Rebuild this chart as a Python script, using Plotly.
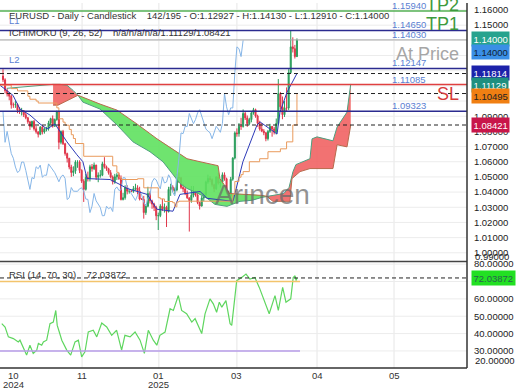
import plotly.graph_objects as go

# ---------------- data ----------------
opens = [1.1165,1.1140,1.1068,1.1047,1.1032,1.0975,1.0975,1.0978,1.0940,1.0935,
         1.0937,1.0910,1.0890,1.0863,1.0833,1.0866,1.0817,1.0797,1.0781,1.0828,
         1.0796,1.0815,1.0817,1.0856,1.0884,1.0834,1.0878,1.0930,1.0728,1.0800,
         1.0719,1.0654,1.0623,1.0565,1.0529,1.0540,1.0598,1.0598,1.0543,1.0472,
         1.0418,1.0496,1.0488,1.0567,1.0554,1.0578,1.0498,1.0511,1.0511,1.0586,
         1.0567,1.0554,1.0528,1.0499,1.0468,1.0501,1.0513,1.0490,1.0351,1.0363,
         1.0430,1.0406,1.0407,1.0405,1.0422,1.0428,1.0407,1.0354,1.0352,1.0265,
         1.0307,1.0391,1.0342,1.0321,1.0299,1.0244,1.0245,1.0307,1.0290,1.0300,
         1.0272,1.0418,1.0434,1.0411,1.0414,1.0495,1.0494,1.0431,1.0421,1.0390,
         1.0362,1.0345,1.0379,1.0403,1.0381,1.0331,1.0308,1.0361,1.0380,1.0466,
         1.0490,1.0481,1.0448,1.0422,1.0500,1.0460,1.0466,1.0514,1.0488,1.0398,
         1.0375,1.0485,1.0624,1.0790,1.0785,1.0834,1.0832,1.0918,1.0889,1.0851,
         1.0878,1.0922,1.0943,1.0901,1.0853,1.0816,1.0802,1.0791,1.0752,1.0800,
         1.0833,1.0816,1.0794,1.0852,1.1049,1.0962,1.0910,1.0955,1.0954,1.1188,
         1.1357,1.1345,1.12927]
highs = [1.1210,1.1150,1.1083,1.1060,1.1040,1.0990,1.1000,1.0985,1.0960,1.0955,
         1.0940,1.0925,1.0895,1.0870,1.0870,1.0875,1.0835,1.0800,1.0835,1.0840,
         1.0825,1.0830,1.0870,1.0890,1.0905,1.0885,1.0937,1.0935,1.0806,1.0810,
         1.0725,1.0660,1.0625,1.0580,1.0570,1.0610,1.0610,1.0610,1.0550,1.0485,
         1.0520,1.0535,1.0580,1.0585,1.0595,1.0580,1.0530,1.0545,1.0600,1.0630,
         1.0575,1.0560,1.0545,1.0510,1.0520,1.0525,1.0525,1.0510,1.0395,1.0445,
         1.0445,1.0420,1.0412,1.0440,1.0455,1.0445,1.0435,1.0360,1.0375,1.0320,
         1.0435,1.0405,1.0350,1.0330,1.0310,1.0265,1.0320,1.0355,1.0325,1.0310,
         1.0435,1.0455,1.0445,1.0430,1.0520,1.0530,1.0500,1.0455,1.0435,1.0410,
         1.0365,1.0440,1.0440,1.0410,1.0395,1.0335,1.0375,1.0395,1.0475,1.0515,
         1.0505,1.0490,1.0455,1.0505,1.0525,1.0485,1.0530,1.0530,1.0495,1.0410,
         1.0500,1.0630,1.0800,1.0820,1.0855,1.0890,1.0945,1.0930,1.0905,1.0890,
         1.0930,1.0955,1.0950,1.0910,1.0870,1.0855,1.0815,1.0795,1.0810,1.0850,
         1.0835,1.0830,1.0885,1.1145,1.1060,1.1030,1.1000,1.1090,1.1210,1.1465,
         1.1420,1.1370,1.14130]
lows = [1.1125,1.1050,1.1030,1.1005,1.0950,1.0955,1.0955,1.0920,1.0915,1.0905,
        1.0895,1.0880,1.0850,1.0810,1.0825,1.0805,1.0785,1.0760,1.0775,1.0780,
        1.0785,1.0800,1.0805,1.0845,1.0825,1.0830,1.0870,1.0682,1.0715,1.0710,
        1.0640,1.0595,1.0550,1.0500,1.0505,1.0520,1.0560,1.0525,1.0460,1.0335,
        1.0410,1.0470,1.0470,1.0535,1.0545,1.0480,1.0465,1.0495,1.0505,1.0555,
        1.0540,1.0515,1.0490,1.0450,1.0455,1.0480,1.0480,1.0345,1.0345,1.0350,
        1.0385,1.0390,1.0400,1.0395,1.0410,1.0385,1.0345,1.0348,1.0225,1.0250,
        1.0300,1.0325,1.0290,1.0275,1.0215,1.0150,1.0235,1.0275,1.0265,1.0170,
        1.0265,1.0375,1.0400,1.0385,1.0405,1.0460,1.0420,1.0400,1.0380,1.0355,
        1.0140,1.0330,1.0365,1.0370,1.0320,1.0285,1.0305,1.0340,1.0370,1.0455,
        1.0465,1.0435,1.0400,1.0415,1.0450,1.0430,1.0455,1.0475,1.0385,1.0360,
        1.0370,1.0475,1.0615,1.0765,1.0765,1.0810,1.0825,1.0875,1.0830,1.0840,
        1.0860,1.0910,1.0890,1.0830,1.0805,1.0795,1.0775,1.0735,1.0740,1.0790,
        1.0765,1.0780,1.0780,1.0840,1.0945,1.0880,1.0895,1.0930,1.0940,1.1180,
        1.1320,1.1280,1.12910]
closes = [1.1140,1.1068,1.1047,1.1032,1.0975,1.0975,1.0978,1.0940,1.0935,1.0937,
          1.0910,1.0890,1.0863,1.0833,1.0866,1.0817,1.0797,1.0781,1.0828,1.0796,
          1.0815,1.0817,1.0856,1.0884,1.0834,1.0878,1.0930,1.0728,1.0800,1.0719,
          1.0654,1.0623,1.0565,1.0529,1.0540,1.0598,1.0598,1.0543,1.0472,1.0418,
          1.0496,1.0488,1.0567,1.0554,1.0578,1.0498,1.0511,1.0511,1.0586,1.0567,
          1.0554,1.0528,1.0499,1.0468,1.0501,1.0513,1.0490,1.0351,1.0363,1.0430,
          1.0406,1.0407,1.0405,1.0422,1.0428,1.0407,1.0354,1.0352,1.0265,1.0307,
          1.0391,1.0342,1.0321,1.0299,1.0244,1.0245,1.0307,1.0290,1.0300,1.0272,
          1.0418,1.0434,1.0411,1.0414,1.0495,1.0494,1.0431,1.0421,1.0390,1.0362,
          1.0345,1.0379,1.0403,1.0381,1.0331,1.0308,1.0361,1.0380,1.0466,1.0490,
          1.0481,1.0448,1.0422,1.0500,1.0460,1.0466,1.0514,1.0488,1.0398,1.0375,
          1.0485,1.0624,1.0790,1.0785,1.0834,1.0832,1.0918,1.0889,1.0851,1.0878,
          1.0922,1.0943,1.0901,1.0853,1.0816,1.0802,1.0791,1.0752,1.0800,1.0833,
          1.0816,1.0794,1.0852,1.1049,1.0962,1.0910,1.0955,1.0954,1.1188,1.1357,
          1.1345,1.1293,1.1400]

# Ichimoku lines (bar index, price)
tenkan_x = [-1.45, 4.8, 8.2, 13.0, 17.9, 21.3, 25.1, 27.5, 30.9, 35.7, 38.6, 40.6, 51.7, 56.5, 59.9,
            69.6, 74.4, 82.1, 85.5, 95.2, 98.6, 111.1, 115.9, 122.7, 124.2, 132.4, 133.8, 137.2, 142]
tenkan_y = [1.1104, 1.1038, 1.0947, 1.0908, 1.0849, 1.0816, 1.0849, 1.0797, 1.0731, 1.0646, 1.0600,
            1.0489, 1.0483, 1.0450, 1.0424, 1.0385, 1.0287, 1.0274, 1.0385, 1.0404, 1.0359, 1.0339,
            1.0600, 1.0842, 1.0862, 1.0783, 1.0927, 1.1058, 1.11814]
kijun_x = [-1.45, 4, 7, 12, 13, 16, 17, 26, 27, 29, 30, 32, 33, 34, 35, 39, 53, 55, 56, 57, 65, 68, 75,
           76, 78, 82, 83, 84, 85, 110, 111, 112, 114, 115, 116, 119, 124, 128, 134, 137, 140, 142]
kijun_y = [1.1105, 1.1082, 1.1067, 1.1032, 1.1012, 1.1000, 1.0987, 1.0955, 1.0883, 1.0861, 1.0841,
           1.0813, 1.0778, 1.0753, 1.0720, 1.0636, 1.0573, 1.0530, 1.0498, 1.0483, 1.0488, 1.0428,
           1.0363, 1.0355, 1.0338, 1.0330, 1.0303, 1.0335, 1.0340, 1.0335, 1.0385, 1.0470, 1.0498,
           1.0515, 1.0535, 1.0600, 1.0620, 1.0666, 1.0685, 1.0731, 1.0842, 1.10495]
senkou_a_x = [1.9, 8.2, 15.5, 24.2, 27.5, 30.9, 33.8, 36.2, 38.6, 46.9, 55.1, 62.8, 71.0, 77.3, 85.5,
              88.9, 95.2, 98.6, 102.4, 108.2, 114.5, 120.3, 125.1, 127.5, 129.9, 135.7, 138.2, 140.1,
              141.5, 148.3, 149.3, 151.7, 159.4, 161.4, 166.2, 167.0, 168.0]
senkou_a_y = [1.1084, 1.1091, 1.1104, 1.1110, 1.1110, 1.1104, 1.1071, 1.1038, 1.0993, 1.0947, 1.0842,
              1.0731, 1.0666, 1.0600, 1.0457, 1.0424, 1.0385, 1.0359, 1.0319, 1.0306, 1.0339, 1.0346,
              1.0365, 1.0372, 1.0378, 1.0391, 1.0431, 1.0535, 1.0581, 1.0620, 1.0751, 1.0764, 1.0738,
              1.0829, 1.0927, 1.1025, 1.11129]
senkou_b_x = [24.2, 26.6, 36.2, 40.6, 46.9, 55.1, 64.7, 74.4, 84.1, 88.9, 95.2, 103.9, 104.8, 106.8,
              109.2, 120.3, 125.1, 127.5, 130.4, 138.6, 139.6, 143.5, 148.3, 159.4, 161.4, 166.2, 168.0]
senkou_b_y = [1.0973, 1.0973, 1.1038, 1.1012, 1.0980, 1.0940, 1.0849, 1.0751, 1.0666, 1.0620, 1.0600,
              1.0574, 1.0489, 1.0450, 1.0391, 1.0385, 1.0378, 1.0372, 1.0339, 1.0339, 1.0489, 1.0535,
              1.0555, 1.0555, 1.0712, 1.0698, 1.08421]
chikou_shift = 26

# RSI (bar index, value)
rsi_x = [-0.6, 1.0, 2.6, 5.0, 7.4, 8.2, 11.4, 13.0, 14.6, 16.3, 17.1, 18.7, 19.5, 21.1, 22.7, 24.3, 25.5,
         26.2, 27.2, 28.4, 30.8, 32.7, 34.8, 36.4, 38.0, 39.6, 41.2, 43.6, 45.3, 47.7, 50.1, 52.5, 54.9,
         57.3, 58.9, 61.4, 63.8, 66.2, 68.3, 70.2, 72.6, 74.3, 75.8, 78.3, 80.7, 82.3, 84.7, 86.3, 88.7,
         91.2, 92.8, 96.0, 97.6, 100.0, 101.6, 103.2, 104.5, 105.7, 107.7, 109.7, 110.5, 112.9, 115.3,
         117.4, 119.3, 121.7, 123.8, 125.7, 128.6, 131.4, 133.0, 135.1, 136.7, 139.0, 140.2, 141.1,
         141.6, 142.0]
rsi_v = [45.7, 43.8, 38.1, 37.1, 35.2, 36.2, 27.6, 33.3, 28.6, 30.5, 34.3, 33.3, 35.2, 36.2, 45.7, 46.6,
         53.3, 44.7, 40.9, 36.2, 30.5, 27.6, 35.2, 36.2, 26.6, 29.5, 40.9, 41.9, 38.1, 46.1, 43.8, 39.0,
         41.9, 30.5, 39.0, 38.1, 40.9, 36.2, 28.6, 41.9, 36.2, 33.3, 39.0, 40.9, 54.3, 53.3, 61.9, 53.3,
         51.4, 46.6, 48.6, 40.0, 51.4, 60.0, 57.1, 52.3, 58.1, 55.2, 59.0, 45.7, 44.7, 70.5, 72.3, 74.3,
         71.4, 72.3, 66.6, 60.9, 51.4, 61.9, 53.3, 66.6, 58.1, 60.0, 72.3, 73.3, 70.5, 72.03872]
rsi_last = 72.03872
rsi_upper, rsi_lower = 70, 30
rsi_line_end = 143.5

# Horizontal levels
tp_level = 1.15940
l1_level = 1.14650
at_price_level = 1.14030
l2_level = 1.12147
sl_level = 1.11085
l3_level = 1.09323
tenkan_last, senkou_a_last, kijun_last, senkou_b_last = 1.11814, 1.11129, 1.10495, 1.08421
last_price = 1.14000

# axis labels not covered by the value boxes
price_ticks = [1.00, 1.01, 1.02, 1.03, 1.04, 1.05, 1.06, 1.07, 1.08, 1.09, 1.12, 1.15, 1.16]
price_grid = [1.00, 1.01, 1.02, 1.03, 1.04, 1.05, 1.06, 1.07, 1.08, 1.09, 1.10, 1.11, 1.12, 1.13,
              1.14, 1.15, 1.16]
rsi_ticks = [30, 40, 50, 60, 80]
rsi_grid = [30, 40, 50, 60, 70, 80]
month_pos = [4.83, 38.2, 75.3, 113.0, 151.7, 188.9]
month_lbl = ["10", "11", "01", "03", "04", "05"]
year_lbl = ["2024", "", "2025", "", "", ""]

# ---------------- layout helpers ----------------
W, H = 520, 390
PW, PH = 467, 368          # plot area in px
FONT = "Liberation Sans, Arial, sans-serif"

def px(x):
    return x / PW

def py(y):
    return (PH - y) / PH

GREEN_C = "#2a9d5c"
RED_C = "#e0364a"
NAVY = "#2b2b8f"
BLUE_TXT = "#5b7fd2"

fig = go.Figure()

# cloud fills
segments = [(24.2, 36.2, "rgba(240,95,95,0.88)"),
            (36.2, 127.5, "rgba(95,225,95,0.9)"),
            (127.5, 168.0, "rgba(240,95,95,0.88)")]
for s, e, col in segments:
    ax = [x for x in senkou_a_x if s <= x <= e]
    ay = [y for x, y in zip(senkou_a_x, senkou_a_y) if s <= x <= e]
    bx = [x for x in senkou_b_x if s <= x <= e]
    by = [y for x, y in zip(senkou_b_x, senkou_b_y) if s <= x <= e]
    fig.add_trace(go.Scatter(x=ax + bx[::-1], y=ay + by[::-1], fill="toself", fillcolor=col,
                             mode="lines", line=dict(width=0), hoverinfo="skip", showlegend=False))
fig.add_trace(go.Scatter(x=senkou_a_x, y=senkou_a_y, mode="lines",
                         line=dict(color="#4f9f7f", width=1), hoverinfo="skip", showlegend=False))
fig.add_trace(go.Scatter(x=senkou_b_x, y=senkou_b_y, mode="lines",
                         line=dict(color="#b86a4c", width=1), hoverinfo="skip", showlegend=False))

# chikou
idx = list(range(len(closes)))
fig.add_trace(go.Scatter(x=[i - chikou_shift for i in idx[chikou_shift:]], y=closes[chikou_shift:],
                         mode="lines", line=dict(color="#86b6e8", width=1),
                         hoverinfo="skip", showlegend=False))

# candles
fig.add_trace(go.Candlestick(x=idx, open=opens, high=highs, low=lows, close=closes,
                             increasing=dict(line=dict(color=GREEN_C, width=1), fillcolor=GREEN_C),
                             decreasing=dict(line=dict(color=RED_C, width=1), fillcolor=RED_C),
                             whiskerwidth=0, hoverinfo="skip", showlegend=False))

# tenkan / kijun
fig.add_trace(go.Scatter(x=tenkan_x, y=tenkan_y, mode="lines", line=dict(color="#2d3ab8", width=1),
                         hoverinfo="skip", showlegend=False))
fig.add_trace(go.Scatter(x=kijun_x, y=kijun_y, mode="lines", line=dict(color="#e99a5c", width=1, shape="hv"),
                         hoverinfo="skip", showlegend=False))

# RSI
fig.add_trace(go.Scatter(x=rsi_x, y=rsi_v, mode="lines", line=dict(color="#5fd65f", width=1.2),
                         xaxis="x", yaxis="y2", hoverinfo="skip", showlegend=False))

shapes = []
def hline(level, color, width=1.5, dash="solid", yref="y", x0=0, x1=1, xref="paper", layer="above"):
    shapes.append(dict(type="line", xref=xref, yref=yref, x0=x0, x1=x1, y0=level, y1=level,
                       line=dict(color=color, width=width, dash=dash), layer=layer))

# grid
for xv in month_pos[1:]:
    shapes.append(dict(type="line", xref="x", yref="paper", x0=xv, x1=xv, y0=0, y1=1,
                       line=dict(color="#e6e6e6", width=1), layer="below"))
for gv in price_grid:
    hline(gv, "#ececec", 1, layer="below")
for gv in rsi_grid:
    hline(gv, "#ececec", 1, yref="y2", layer="below")

hline(tp_level, "#55b055", 1.5)
hline(l1_level, NAVY, 1.4)
hline(at_price_level, "#a8a8a8", 1)
hline(l2_level, NAVY, 1.4)
hline(sl_level, "#e04040", 1.5)
hline(l3_level, NAVY, 1.4)
for lv in (tenkan_last, kijun_last, senkou_b_last):
    hline(lv, "#222222", 1, "4px,3px")

# RSI levels
hline(rsi_upper, "#f3c46c", 1.5, yref="y2", x0=-1.45, x1=rsi_line_end, xref="x")
hline(rsi_lower, "#b79ce8", 1.5, yref="y2", x0=-1.45, x1=rsi_line_end, xref="x")
hline(rsi_last, "#222222", 1, "4px,3px", yref="y2")

# frame
shapes.append(dict(type="line", xref="paper", yref="paper", x0=0, x1=1, y0=py(260.5), y1=py(260.5),
                   line=dict(color="#444", width=1.5)))
shapes.append(dict(type="line", xref="paper", yref="paper", x0=1, x1=1, y0=0, y1=1,
                   line=dict(color="#333", width=1.5)))
shapes.append(dict(type="line", xref="paper", yref="paper", x0=0, x1=1, y0=0, y1=0,
                   line=dict(color="#333", width=1.5)))

ann = []
def txt(x, y, s, size=9.5, color="#333", xanchor="left", **kw):
    ann.append(dict(x=px(x), y=py(y), xref="paper", yref="paper", text=s, showarrow=False,
                    font=dict(size=size, color=color, family=FONT), xanchor=xanchor,
                    yanchor="middle", **kw))

txt(7, 12.5, "EURUSD - Daily - Candlestick&nbsp;&nbsp;&nbsp; 142/195 - O:1.12927 - H:1.14130 - L:1.12910 - C:1.14000")
txt(7, 29.5, "ICHIMOKU (9, 26, 52)&nbsp;&nbsp;&nbsp; n/a/n/a/n/a/1.11129/1.08421")
txt(7, 17.5, "L1", color=BLUE_TXT)
txt(7, 57, "L2", color=BLUE_TXT)

for lv, s in [(tp_level, "1.15940"), (l1_level, "1.14650"), (at_price_level, "1.14030"),
              (l2_level, "1.12147"), (sl_level, "1.11085"), (l3_level, "1.09323")]:
    ann.append(dict(x=px(428), y=lv, xref="paper", yref="y", text=s, showarrow=False, xanchor="right",
                    yanchor="middle", yshift=5.5, font=dict(size=9.5, color=BLUE_TXT, family=FONT)))

txt(461, 2, "TP2", size=18, color="#3d9a3d", xanchor="right")
txt(461, 21.5, "TP1", size=18, color="#3d9a3d", xanchor="right")
txt(461, 51, "At Price", size=18, color="#a6a6a6", xanchor="right")
txt(461, 92, "SL", size=18, color="#d63c3c", xanchor="right")

txt(262, 193, "Arincen", size=28, color="rgba(105,105,105,0.72)", xanchor="center")

# right-side value boxes
for yy, s, bg, fc in [(36, "1.14000", "#27a38e", "white"), (49.3, "1.14000", "#3a8fe6", "#123"),
                      (71, "1.11814", "#1c22aa", "white"), (82.5, "1.11129", "#1f8f7f", "white"),
                      (94, "1.10495", "#f07f12", "#222"), (123.5, "1.08421", "#c8164a", "white"),
                      (277, "72.03872", "#22e022", "#2a6050")]:
    txt(471, yy, s, color=fc, bgcolor=bg, borderpad=1.5)
txt(473, 256, "0.99000", color="#222")
txt(473, 360, "20.00000", color="#222")

txt(7, 273.5, "RSI (14, 70, 30)&nbsp;&nbsp;&nbsp; 72.03872")

for xv, m, yl in zip(month_pos, month_lbl, year_lbl):
    ann.append(dict(x=xv, y=py(376), xref="x", yref="paper", text=m, showarrow=False,
                    xanchor="center", yanchor="middle", font=dict(size=9.5, color="#333", family=FONT)))
    if yl:
        ann.append(dict(x=xv, y=py(385), xref="x", yref="paper", text=yl, showarrow=False,
                        xanchor="center", yanchor="middle", font=dict(size=9.5, color="#333", family=FONT)))

fig.update_layout(
    width=W, height=H, margin=dict(l=0, r=W - PW, t=0, b=H - PH),
    paper_bgcolor="white", plot_bgcolor="white", showlegend=False,
    font=dict(family=FONT, size=9.5, color="#333"),
    xaxis=dict(domain=[0, 1], range=[-1.449, 224.155], anchor="y2", showgrid=False,
               showticklabels=False, zeroline=False, showline=False, rangeslider=dict(visible=False),
               fixedrange=True),
    yaxis=dict(domain=[108 / 368, 1], range=[0.99467, 1.16461], side="right", anchor="x",
               tickvals=price_ticks, ticktext=[f"{v:.5f}" for v in price_ticks],
               showgrid=False, zeroline=False, showline=False,
               ticks="outside", ticklen=4, tickcolor="rgba(0,0,0,0)",
               tickfont=dict(size=9.5, color="#222", family=FONT), fixedrange=True),
    yaxis2=dict(domain=[0, 107 / 368], range=[20.17, 81.31], side="right", anchor="x",
                tickvals=rsi_ticks, ticktext=[f"{v:.5f}" for v in rsi_ticks],
                showgrid=False, zeroline=False, showline=False,
                ticks="outside", ticklen=4, tickcolor="rgba(0,0,0,0)",
                tickfont=dict(size=9.5, color="#222", family=FONT), fixedrange=True),
    shapes=shapes, annotations=ann,
)

fig.write_html("out.html")
